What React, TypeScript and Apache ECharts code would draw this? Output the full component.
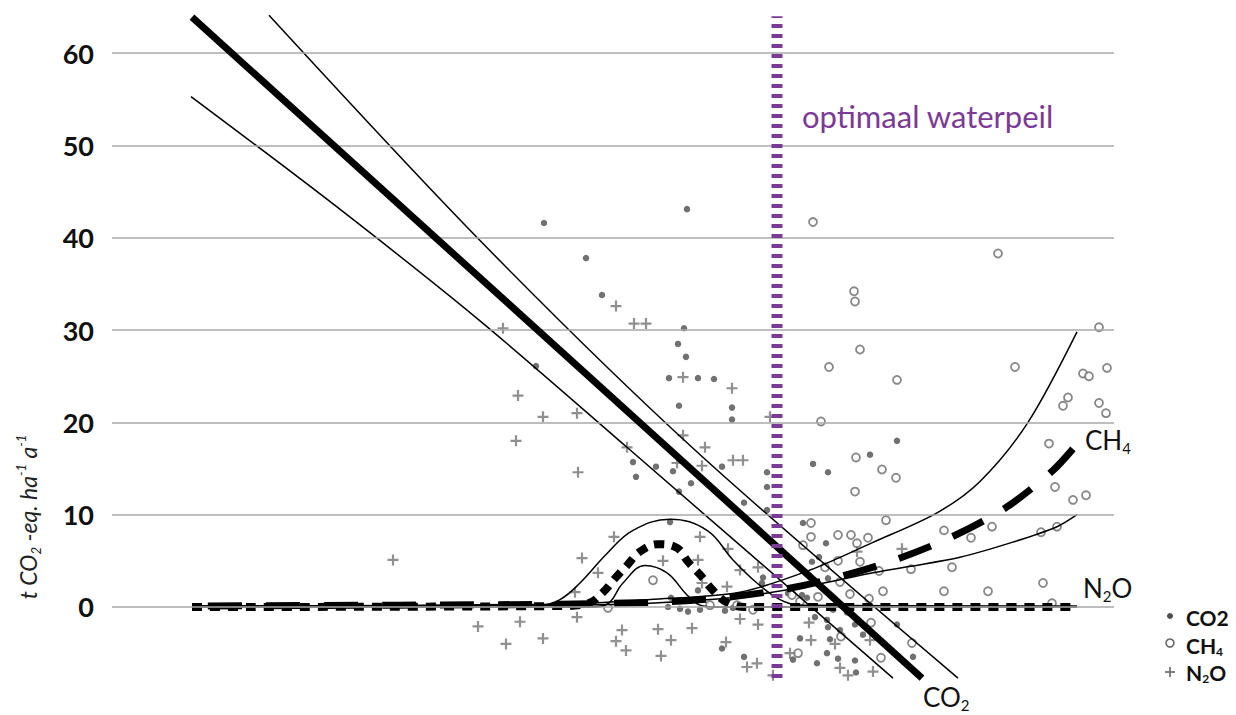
import React, { useEffect, useRef } from 'react';
import * as echarts from 'echarts';

const FONT = 'Lato, "Open Sans", sans-serif';

// y-axis grid/tick values
const yTicks = [0, 10, 20, 30, 40, 50, 60];
// optimal water level (x position, arbitrary unlabeled x scale)
const optimalLevel = 66.5;

// Observations: [x, y]
const co2Points: [number, number][] = [
  [43.2, 41.6], [57.5, 43.1], [47.4, 37.8], [49.0, 33.8], [57.2, 30.2], [56.6, 28.5],
  [57.4, 27.1], [55.7, 24.8], [58.6, 24.8], [60.2, 24.7], [56.7, 21.8], [62.0, 21.6],
  [62.0, 20.3], [42.4, 26.1], [52.1, 15.7], [52.4, 14.1], [54.4, 15.2], [56.1, 14.7],
  [57.9, 13.4], [56.7, 12.5], [61.0, 15.2], [63.2, 11.3], [65.5, 14.6], [65.5, 13.0],
  [65.5, 10.5], [55.8, 9.2], [65.1, 3.2], [58.6, 1.8], [55.6, 0.0], [56.8, -0.2],
  [57.6, -0.5], [58.8, -0.3], [61.3, -0.4], [62.1, -0.1], [61.0, -4.5], [63.2, -5.4],
  [78.5, 18.0], [75.8, 16.5], [70.1, 15.5], [71.6, 14.6], [69.1, 9.1], [71.4, 6.9],
  [70.7, 5.4], [70.0, 4.9], [65.0, 2.6], [71.6, 3.1], [67.6, 1.5], [69.0, 1.3],
  [69.5, 1.0], [72.1, -0.3], [70.3, -1.1], [73.5, -0.6], [74.3, -1.9], [71.5, -1.4],
  [72.8, -2.5], [71.6, -2.2], [78.5, -1.9], [68.8, -3.4], [71.8, -3.5], [75.1, -3.0],
  [71.5, -5.0], [68.1, -5.7], [70.5, -6.1], [72.6, -5.6], [74.3, -5.8], [80.1, -5.4],
  [74.4, -7.1], [55.9, 1.0],
];

const ch4Points: [number, number][] = [
  [70.1, 41.7], [74.2, 34.2], [74.3, 33.1], [74.8, 27.9], [71.7, 26.0], [78.5, 24.6],
  [70.9, 20.1], [74.4, 16.2], [77.0, 14.9], [78.4, 14.0], [74.3, 12.5], [88.6, 38.3],
  [98.7, 30.3], [90.3, 26.0], [97.1, 25.3], [97.7, 25.0], [99.5, 25.9], [95.6, 22.7],
  [95.1, 21.8], [98.7, 22.1], [99.4, 21.0], [93.7, 17.7], [94.3, 13.0], [97.4, 12.1],
  [96.1, 11.6], [88.0, 8.7], [85.9, 7.5], [92.9, 8.1], [94.5, 8.7], [87.6, 1.7],
  [93.1, 2.6], [94.0, 0.4], [69.9, 9.1], [77.4, 9.4], [69.9, 7.6], [72.6, 7.8],
  [73.9, 7.8], [75.6, 7.5], [74.5, 6.9], [69.1, 6.7], [83.2, 8.3], [71.3, 4.3],
  [72.6, 5.0], [74.8, 4.9], [76.7, 3.9], [79.9, 4.1], [84.0, 4.3], [72.8, 2.7],
  [77.1, 1.7], [83.2, 1.7], [73.8, 1.4], [70.6, 1.1], [75.7, 0.9], [68.8, 0.6],
  [64.1, -0.3], [68.0, 1.3], [75.9, -1.7], [72.9, -3.2], [80.0, -3.9], [68.6, -5.0],
  [76.9, -5.5], [54.1, 2.9], [49.6, -0.1], [59.8, 0.2], [62.5, 0.2],
];

const n2oPoints: [number, number][] = [
  [50.4, 32.6], [52.2, 30.7], [53.4, 30.7], [39.1, 30.2], [57.1, 24.9], [62.0, 23.7],
  [40.6, 22.9], [43.1, 20.6], [46.5, 21.0], [65.8, 20.6], [40.4, 18.0], [51.5, 17.3],
  [57.1, 18.6], [59.3, 17.3], [46.6, 14.6], [56.5, 15.6], [59.0, 15.3], [62.1, 15.9],
  [63.1, 15.9], [50.2, 7.6], [58.8, 7.6], [47.0, 5.3], [55.1, 5.0], [48.6, 3.7],
  [58.6, 5.1], [61.6, 6.3], [62.8, 4.0], [64.6, 4.3], [46.3, 1.6], [59.0, 2.6],
  [61.5, 2.2], [46.5, -1.1], [40.8, -1.6], [36.6, -2.1], [51.0, -2.5], [54.6, -2.4],
  [58.0, -2.3], [64.6, -1.9], [62.8, -1.3], [43.1, -3.4], [39.4, -4.0], [50.4, -3.7],
  [51.4, -4.7], [55.9, -3.6], [61.4, -3.8], [54.9, -5.3], [64.5, -6.1], [63.5, -6.5],
  [66.1, -7.4], [28.1, 5.1], [74.5, 6.0], [79.0, 6.3], [69.7, -1.7], [69.9, -3.6],
  [72.3, -4.0], [75.8, -3.6], [67.8, -5.0], [72.8, -6.6], [73.6, -7.4], [76.1, -7.0],
];

// Fitted curves and confidence bands
const co2Fit: [number, number][] = [[8.0, 63.9], [81.0, -7.7]];
const co2Upper: [number, number][] = [[15.7, 64.1], [36.8, 39.7], [58.1, 17.2], [84.6, -7.7]];
const co2Lower: [number, number][] = [[7.9, 55.3], [22.3, 43.5], [36.8, 31.0], [51.5, 17.3], [78.1, -7.7]];

const ch4Fit: [number, number][] = [
  [8.0, 0.1], [28.8, 0.2], [44.8, 0.3], [53.8, 0.5], [60.1, 0.9], [66.6, 1.8], [72.5, 3.2],
  [78.3, 5.1], [84.0, 7.6], [89.3, 10.7], [94.1, 14.8], [96.7, 17.9],
];
const ch4Upper: [number, number][] = [
  [8.0, 0.1], [44.8, 0.3], [53.8, 0.8], [62.8, 1.6], [69.8, 4.0], [76.1, 7.0], [82.5, 10.2],
  [86.8, 13.6], [91.6, 20.0], [96.5, 29.8],
];
const ch4Lower: [number, number][] = [
  [8.0, 0.1], [44.8, 0.2], [53.8, 0.4], [62.8, 1.1], [69.8, 2.3], [76.1, 3.7], [84.8, 5.4],
  [90.0, 7.0], [94.5, 8.7], [96.5, 10.0],
];

const n2oFit: [number, number][] = [
  [8.0, 0.0], [44.8, 0.1], [47.6, 0.4], [49.1, 1.6], [50.3, 3.1], [51.5, 4.5], [52.8, 6.0],
  [54.6, 6.8], [56.5, 6.4], [57.6, 4.9], [58.8, 3.5], [60.1, 1.8], [61.5, 0.5], [63.3, 0.0],
  [96.5, 0.0],
];
const n2oUpper: [number, number][] = [
  [8.0, 0.1], [42.8, 0.2], [44.8, 0.8], [46.8, 2.6], [49.5, 5.8], [52.1, 8.3], [55.8, 9.5],
  [59.5, 8.3], [62.1, 5.1], [64.5, 2.6], [66.8, 0.8], [68.8, 0.2], [96.5, 0.1],
];
const n2oLower: [number, number][] = [
  [8.0, 0.0], [47.8, 0.0], [49.5, 0.3], [51.1, 2.6], [53.3, 4.5], [55.5, 3.7], [57.5, 1.3],
  [58.8, 0.2], [60.3, 0.0], [96.5, 0.0],
];

const optimalSpan: [number, number] = [-7.7, 64.0];

const PLUS = 'path://M4,0H6V4H10V6H6V10H4V6H0V4H4Z';

function lineSeries(
  name: string,
  data: [number, number][],
  width: number,
  type: any,
  z: number,
  smooth = 0.3,
  dashOffset = 0
) {
  return {
    name,
    type: 'line',
    data,
    smooth,
    showSymbol: false,
    symbol: 'none',
    silent: true,
    z,
    lineStyle: { color: '#000', width, type, cap: 'butt', dashOffset },
  };
}

export default function App() {
  const ref = useRef<HTMLDivElement>(null);

  useEffect(() => {
    if (!ref.current) return;
    const chart = echarts.init(ref.current, undefined, { renderer: 'svg' });

    const labelRich = {
      m: { fontFamily: FONT, fontSize: 26, fill: '#111', lineHeight: 30 },
      s: { fontFamily: FONT, fontSize: 15, fill: '#111', verticalAlign: 'bottom' },
    };
    const legendRich = {
      m: { fontFamily: FONT, fontSize: 21, fontWeight: 'bold', fill: '#111', lineHeight: 24 },
      s: { fontFamily: FONT, fontSize: 12, fontWeight: 'bold', fill: '#111', verticalAlign: 'bottom' },
    };

    chart.setOption({
      animation: false,
      backgroundColor: '#fff',
      grid: { left: 112, width: 1002, top: 7, height: 692.3 },
      xAxis: { type: 'value', min: 0, max: 100.2, show: false },
      yAxis: {
        type: 'value',
        min: -10,
        max: 65,
        interval: 10,
        axisLine: { show: false },
        axisTick: { show: false },
        splitLine: { show: false },
        axisLabel: {
          margin: 18,
          fontSize: 27,
          fontWeight: 'bold',
          fontFamily: FONT,
          color: '#111',
          formatter: (v: number) => (yTicks.includes(v) ? String(v) : ''),
        },
      },
      series: [
        {
          name: 'grid',
          type: 'line',
          data: [],
          silent: true,
          z: 1,
          markLine: {
            silent: true,
            symbol: 'none',
            label: { show: false },
            lineStyle: { color: '#a8a8a8', width: 1.5, type: 'solid' },
            data: yTicks.map((v) => ({ yAxis: v })),
          },
        },
        {
          name: 'CO2',
          type: 'scatter',
          data: co2Points,
          symbol: 'circle',
          symbolSize: 6.5,
          itemStyle: { color: '#4d4d4d' },
          z: 2,
        },
        {
          name: 'CH4',
          type: 'scatter',
          data: ch4Points,
          symbol: 'circle',
          symbolSize: 8,
          itemStyle: { color: '#fff', borderColor: '#6a6a6a', borderWidth: 1.8 },
          z: 2,
        },
        {
          name: 'N2O',
          type: 'scatter',
          data: n2oPoints,
          symbol: PLUS,
          symbolSize: 11,
          itemStyle: { color: '#747474' },
          z: 2,
        },
        lineSeries('N2O upper', n2oUpper, 1.5, 'solid', 3, 0.4),
        lineSeries('N2O lower', n2oLower, 1.5, 'solid', 3, 0.4),
        lineSeries('CH4 upper', ch4Upper, 1.5, 'solid', 3),
        lineSeries('CH4 lower', ch4Lower, 1.5, 'solid', 3),
        lineSeries('CO2 upper', co2Upper, 1.5, 'solid', 3),
        lineSeries('CO2 lower', co2Lower, 1.5, 'solid', 3),
        lineSeries('N2O fit', n2oFit, 8, [10, 8], 4, 0.4),
        lineSeries('CH4 fit', ch4Fit, 7, [34, 24], 4, 0.3, 42),
        lineSeries('CO2 fit', co2Fit, 7, 'solid', 5, 0),
        {
          name: 'optimaal waterpeil',
          type: 'line',
          data: [[optimalLevel, optimalSpan[0]], [optimalLevel, optimalSpan[1]]],
          showSymbol: false,
          symbol: 'none',
          silent: true,
          z: 6,
          lineStyle: { color: '#7b3a96', width: 11, type: [4, 6], cap: 'butt' },
        },
      ],
      graphic: [
        {
          type: 'text',
          x: 28,
          y: 517,
          rotation: Math.PI / 2,
          style: {
            text: '{i|t CO}{s|2}{i| -eq. ha}{p|-1}{i| a}{p|-1}',
            align: 'center',
            verticalAlign: 'middle',
            rich: {
              i: { fontFamily: FONT, fontStyle: 'italic', fontSize: 23, fill: '#222', lineHeight: 28 },
              s: { fontFamily: FONT, fontStyle: 'italic', fontSize: 13, fill: '#222', verticalAlign: 'bottom' },
              p: { fontFamily: FONT, fontStyle: 'italic', fontSize: 13, fill: '#222', verticalAlign: 'top' },
            },
          },
        },
        {
          type: 'text',
          x: 802,
          y: 116,
          style: {
            text: 'optimaal waterpeil',
            fontFamily: FONT,
            fontSize: 31,
            fill: '#7b3a96',
            align: 'left',
            verticalAlign: 'middle',
          },
        },
        {
          type: 'text', x: 923, y: 697,
          style: { text: '{m|CO}{s|2}', rich: labelRich, align: 'left', verticalAlign: 'middle' },
        },
        {
          type: 'text', x: 1085, y: 440,
          style: { text: '{m|CH}{s|4}', rich: labelRich, align: 'left', verticalAlign: 'middle' },
        },
        {
          type: 'text', x: 1083, y: 588,
          style: { text: '{m|N}{s|2}{m|O}', rich: labelRich, align: 'left', verticalAlign: 'middle' },
        },
        // legend
        { type: 'circle', shape: { cx: 1170, cy: 616, r: 3 }, style: { fill: '#4d4d4d' } },
        {
          type: 'text', x: 1186, y: 617,
          style: { text: '{m|CO2}', rich: legendRich, align: 'left', verticalAlign: 'middle' },
        },
        { type: 'circle', shape: { cx: 1170, cy: 643, r: 4 }, style: { fill: '#fff', stroke: '#6a6a6a', lineWidth: 1.6 } },
        {
          type: 'text', x: 1186, y: 645,
          style: { text: '{m|CH}{s|4}', rich: legendRich, align: 'left', verticalAlign: 'middle' },
        },
        { type: 'line', shape: { x1: 1165, y1: 672, x2: 1175, y2: 672 }, style: { stroke: '#747474', lineWidth: 1.8 } },
        { type: 'line', shape: { x1: 1170, y1: 667, x2: 1170, y2: 677 }, style: { stroke: '#747474', lineWidth: 1.8 } },
        {
          type: 'text', x: 1186, y: 672,
          style: { text: '{m|N}{s|2}{m|O}', rich: legendRich, align: 'left', verticalAlign: 'middle' },
        },
      ],
    });

    return () => chart.dispose();
  }, []);

  return (
    <div
      ref={ref}
      style={{ position: 'fixed', left: 0, top: 0, width: 1236, height: 715, background: '#fff' }}
    />
  );
}
